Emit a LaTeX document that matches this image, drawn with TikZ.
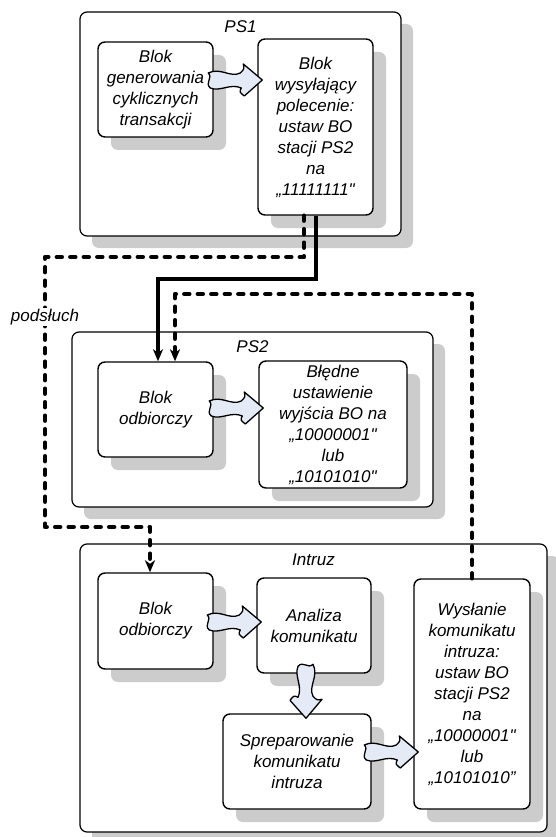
\documentclass[tikz,border=0pt]{standalone}
\usepackage{fontspec}
\setmainfont{Liberation Sans}[Ligatures=TeXOff]
\usetikzlibrary{arrows.meta,calc,shadows}
\definecolor{shadowgray}{RGB}{204,204,204}
\definecolor{arrowfill}{RGB}{228,234,246}
\begin{document}
\begin{tikzpicture}[x=1pt,y=-1pt,
  txt/.style={font=\fontsize{17}{21}\selectfont\itshape},
  outerbox/.style={draw, line width=1.2pt, rounded corners=7pt, fill=white,
    drop shadow={shadow xshift=12pt, shadow yshift=-12pt, fill=shadowgray, opacity=1},
    inner sep=0pt},
  innerbox/.style={txt, draw, line width=1.4pt, rounded corners=7pt, fill=white, align=center,
    drop shadow={shadow xshift=13pt, shadow yshift=-13pt, fill=shadowgray, opacity=1},
    inner sep=2pt},
  titlelbl/.style={txt},
  solidline/.style={line width=4pt, line join=miter, -{Stealth[length=12pt,width=10pt,inset=3.5pt]}},
  dashline/.style={line width=4.5pt, line cap=round, line join=round, dash pattern=on 5pt off 8.5pt,
    -{Stealth[length=12pt,width=10pt,inset=3.5pt]}},
  fatarrow/.pic={\draw[fill=arrowfill, line width=1.3pt, line join=round]
    (0,0) -- (-19,-16) .. controls (-18,-11) .. (-22,-7)
    .. controls (-32,-2) and (-42,-13) .. (-54,-7)
    .. controls (-49,-2) and (-58,3) .. (-52,8)
    .. controls (-42,12) and (-32,3) .. (-21,8)
    .. controls (-23,12) .. (-18,16) -- cycle;}
]
\useasboundingbox (0,0) rectangle (555,837);

% PS1
\node[outerbox, minimum width=321pt, minimum height=224pt] (ps1) at (240.5,124) {};
\node[titlelbl] (t1) at ($(ps1.north)+(0,15)$) {PS1};
\node[innerbox, minimum width=115pt, minimum height=95pt] (b11) at (155.5,89.5)
  {Blok\\generowania\\cyklicznych\\transakcji};
\node[innerbox, minimum width=115pt, minimum height=176pt] (b12) at (315.5,127)
  {Blok\\wysyłający\\polecenie:\\ustaw BO\\stacji PS2\\na\\„11111111"};
\pic at ($(b12.west |- 0,80)+(5,0)$) {fatarrow};

% PS2
\node[outerbox, minimum width=361pt, minimum height=175pt] (ps2) at (252.5,419.5) {};
\node[titlelbl] (t2) at ($(ps2.north)+(0,15)$) {PS2};
\node[innerbox, minimum width=115pt, minimum height=95pt] (b21) at (155.5,409.5)
  {Blok\\odbiorczy};
\node[innerbox, minimum width=148pt, minimum height=127pt] (b22) at (333,424.5)
  {Błędne\\ustawienie\\wyjścia BO na\\„10000001"\\lub\\„10101010"};
\pic at ($(b22.west |- 0,408)+(5,0)$) {fatarrow};

% Intruz
\node[outerbox, minimum width=467pt, minimum height=288pt] (intr) at (313.5,688) {};
\node[titlelbl] (t3) at ($(intr.north)+(0,16)$) {Intruz};
\node[innerbox, minimum width=115pt, minimum height=96pt] (b31) at (155.5,621)
  {Blok\\odbiorczy};
\node[innerbox, minimum width=114pt, minimum height=95pt] (b32) at (314,625.5)
  {Analiza\\komunikatu};
\node[innerbox, minimum width=148pt, minimum height=95pt] (b33) at (297,761.5)
  {Spreparowanie\\komunikatu\\intruza};
\node[innerbox, minimum width=116pt, minimum height=230pt] (b34) at (472,694)
  {Wysłanie\\komunikatu\\intruza:\\ustaw BO\\stacji PS2\\na\\„10000001"\\lub\\„10101010”};
\pic at ($(b32.west |- 0,622)+(5,0)$) {fatarrow};
\pic[rotate=-90] at ($(b33.north -| 306,0)+(0,5)$) {fatarrow};
\pic at ($(b34.west |- 0,752)+(5,0)$) {fatarrow};

% connectors
\coordinate (p1) at (45,257);
\coordinate (p2) at (45,527);
\coordinate (q1) at (175,294);
\draw[solidline] ([xshift=0.5pt]b12.south) -- ++(0,63) -| ([xshift=2.5pt]b21.north);
\draw[dashline] ([xshift=-11.5pt]b12.south) |- (p1) -- (p2) -| ([xshift=-5.5pt]b31.north);
\draw[dashline] (b34.north) |- (q1) -- ([xshift=19.5pt]b21.north);
\node[txt, fill=white, inner sep=1pt] (lab) at (45,317) {podsłuch};
\end{tikzpicture}
\end{document}
